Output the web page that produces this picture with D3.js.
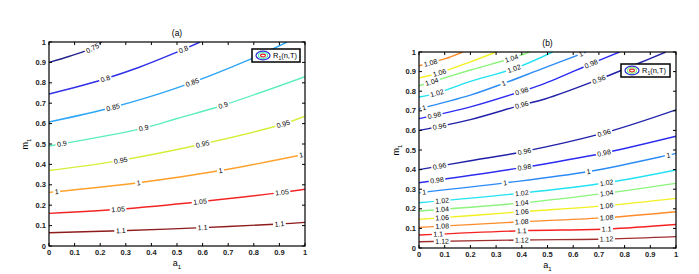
<!DOCTYPE html>
<html>
<head>
<meta charset="utf-8">
<script src="https://cdn.jsdelivr.net/npm/d3@7"></script>
<style>
  body { margin: 0; background: #fff; }
  svg text { font-family: "Liberation Sans", Arial, sans-serif; }
</style>
</head>
<body>
<div id="chart"></div>
<script>
"use strict"

// -------------------------------------
// Data
// -------------------------------------

var tickValues = [0, 0.1, 0.2, 0.3, 0.4, 0.5, 0.6, 0.7, 0.8, 0.9, 1]
var tickLabels = ['0', '0.1', '0.2', '0.3', '0.4', '0.5', '0.6', '0.7', '0.8', '0.9', '1']

// panel (a): contour levels, colours, points [a1, m1], label positions on a1
var levelsA = [0.75, 0.8, 0.85, 0.9, 0.95, 1, 1.05, 1.1]
var colorsA = ['#23238c', '#3030e8', '#2ea6f5', '#5cedbf', '#d6ee3a', '#ffa02a', '#f32424', '#8e1c1c']
var linesA = [
    [[0, 0.90], [0.08, 0.93], [0.17, 0.97], [0.205, 1.0]],
    [[0, 0.745], [0.1, 0.777], [0.22, 0.82], [0.35, 0.875], [0.49, 0.945], [0.59, 1.0]],
    [[0, 0.608], [0.25, 0.68], [0.5, 0.775], [0.785, 0.915], [0.93, 1.0]],
    [[0, 0.49], [0.37, 0.578], [0.5, 0.625], [0.68, 0.69], [1, 0.83]],
    [[0, 0.37], [0.28, 0.42], [0.6, 0.50], [0.915, 0.598], [1, 0.636]],
    [[0, 0.263], [0.35, 0.31], [0.67, 0.37], [1, 0.45]],
    [[0, 0.16], [0.27, 0.18], [0.59, 0.217], [0.91, 0.263], [1, 0.278]],
    [[0, 0.065], [0.28, 0.075], [0.6, 0.09], [0.9, 0.108], [1, 0.116]]
]
var labelsA = [
    [0.17],
    [0.22, 0.525],
    [0.25, 0.56],
    [0.05, 0.37, 0.68],
    [0.28, 0.6, 0.915],
    [0.03, 0.35, 0.67, 0.985],
    [0.27, 0.59, 0.91],
    [0.28, 0.6, 0.9]
]

// panel (b): upper group then lower group
var levelsB = [1.08, 1.06, 1.04, 1.02, 1, 0.98, 0.96, 0.96, 0.98, 1, 1.02, 1.04, 1.06, 1.08, 1.1, 1.12]
var colorsB = ['#ff8c2a', '#f2f022', '#8cf47c', '#22e2f2', '#2c8cf6', '#2c2cf0', '#2020a8',
               '#2020a8', '#2c2cf0', '#2c8cf6', '#22e2f2', '#8cf47c', '#f2f022', '#ff8c2a', '#f42222', '#a03030']
var linesB = [
    [[0, 0.93], [0.1, 0.965], [0.17, 1.0]],
    [[0, 0.868], [0.08, 0.894], [0.2, 0.95], [0.3, 1.0]],
    [[0, 0.828], [0.2, 0.908], [0.36, 0.968], [0.43, 1.0]],
    [[0, 0.77], [0.07, 0.79], [0.2, 0.85], [0.37, 0.915], [0.52, 1.0]],
    [[0, 0.71], [0.2, 0.78], [0.33, 0.84], [0.47, 0.91], [0.65, 1.0]],
    [[0, 0.66], [0.2, 0.72], [0.4, 0.80], [0.49, 0.84], [0.67, 0.94], [0.78, 1.0]],
    [[0, 0.60], [0.2, 0.655], [0.4, 0.73], [0.49, 0.76], [0.70, 0.86], [0.85, 0.94], [0.96, 1.0]],
    [[0, 0.40], [0.2, 0.445], [0.4, 0.49], [0.72, 0.587], [1, 0.705]],
    [[0, 0.333], [0.4, 0.41], [0.72, 0.485], [1, 0.57]],
    [[0, 0.282], [0.335, 0.332], [0.66, 0.39], [0.97, 0.474], [1, 0.483]],
    [[0, 0.231], [0.4, 0.28], [0.73, 0.333], [1, 0.398]],
    [[0, 0.189], [0.4, 0.23], [0.73, 0.28], [1, 0.33]],
    [[0, 0.146], [0.4, 0.185], [0.73, 0.216], [1, 0.253]],
    [[0, 0.105], [0.4, 0.134], [0.73, 0.155], [1, 0.185]],
    [[0, 0.066], [0.4, 0.088], [0.73, 0.097], [1, 0.12]],
    [[0, 0.032], [0.4, 0.041], [0.73, 0.046], [1, 0.058]]
]
var labelsB = [
    [0.045],
    [0.08],
    [0.05, 0.36],
    [0.07, 0.37],
    [0.02, 0.33, 0.63],
    [0.06, 0.40, 0.67],
    [0.08, 0.40, 0.70],
    [0.08, 0.41, 0.72],
    [0.07, 0.41, 0.72],
    [0.02, 0.335, 0.66, 0.97],
    [0.09, 0.40, 0.73],
    [0.09, 0.40, 0.73],
    [0.09, 0.40, 0.73],
    [0.09, 0.40, 0.73],
    [0.075, 0.40, 0.73],
    [0.09, 0.40, 0.73]
]

// -------------------------------------
// Layout
// -------------------------------------

var W = 699, H = 274

var svg = d3.select('#chart').append('svg')
    .attr('width', W)
    .attr('height', H)

var panels = [
    { title: '(a)', left: 49, right: 305, top: 42, bottom: 246,
      levels: levelsA, colors: colorsA, lines: linesA, labels: labelsA,
      legend: { x: 252, y: 49, w: 48, h: 13, mid: '#5cedbf' }, ylabelX: 28 },
    { title: '(b)', left: 419, right: 676, top: 52, bottom: 248,
      levels: levelsB, colors: colorsB, lines: linesB, labels: labelsB,
      legend: { x: 621, y: 64, w: 49, h: 13, mid: '#8cf47c' }, ylabelX: 399 }
]

panels.forEach(drawPanel)

// -------------------------------------
// Draw one contour panel
// -------------------------------------

function drawPanel(p) {
    var x = d3.scaleLinear().domain([0, 1]).range([p.left, p.right])
    var y = d3.scaleLinear().domain([0, 1]).range([p.bottom, p.top])

    var g = svg.append('g')

    var clipId = 'clip' + p.left
    g.append('clipPath').attr('id', clipId)
        .append('rect')
        .attr('x', p.left).attr('y', p.top)
        .attr('width', p.right - p.left).attr('height', p.bottom - p.top)

    var line = d3.line()
        .x(d => x(d[0]))
        .y(d => y(d[1]))
        .curve(d3.curveCatmullRom)

    var lineG = g.append('g').attr('clip-path', `url(#${clipId})`)
    var labelG = g.append('g').attr('clip-path', `url(#${clipId})`)

    p.lines.forEach(function (pts, i) {
        var path = lineG.append('path')
            .datum(pts)
            .attr('fill', 'none')
            .attr('stroke', p.colors[i])
            .attr('stroke-width', 1.4)
            .attr('d', line)

        var node = path.node()
        var total = node.getTotalLength()

        p.labels[i].forEach(function (a) {
            var px = x(a)
            // find length along path where x == px
            var lo = 0, hi = total
            for (var k = 0; k < 30; k++) {
                var mid = (lo + hi) / 2
                if (node.getPointAtLength(mid).x < px) lo = mid
                else hi = mid
            }
            var L = (lo + hi) / 2
            var pt = node.getPointAtLength(L)
            var p1 = node.getPointAtLength(Math.max(0, L - 3))
            var p2 = node.getPointAtLength(Math.min(total, L + 3))
            var ang = Math.atan2(p2.y - p1.y, p2.x - p1.x) * 180 / Math.PI

            var lab = labelG.append('g')
                .attr('transform', `translate(${pt.x},${pt.y}) rotate(${ang})`)
            var bg = lab.append('rect').attr('fill', '#fff')
            var txt = lab.append('text')
                .attr('text-anchor', 'middle')
                .attr('dy', '0.35em')
                .attr('font-size', 7)
                .attr('fill', '#000')
                .text(String(p.levels[i]))
            var tw = txt.node().getComputedTextLength()
            bg.attr('x', -tw / 2 - 1.5).attr('y', -3.5)
                .attr('width', tw + 3).attr('height', 7)
        })
    })

    // box + inward ticks on all sides
    g.append('rect')
        .attr('x', p.left).attr('y', p.top)
        .attr('width', p.right - p.left).attr('height', p.bottom - p.top)
        .attr('fill', 'none')
        .attr('stroke', '#000')
        .attr('stroke-width', 1.2)

    var tl = 3
    tickValues.forEach(function (t, i) {
        g.append('line').attr('x1', x(t)).attr('x2', x(t)).attr('y1', p.bottom).attr('y2', p.bottom - tl).attr('stroke', '#000')
        g.append('line').attr('x1', x(t)).attr('x2', x(t)).attr('y1', p.top).attr('y2', p.top + tl).attr('stroke', '#000')
        g.append('line').attr('y1', y(t)).attr('y2', y(t)).attr('x1', p.left).attr('x2', p.left + tl).attr('stroke', '#000')
        g.append('line').attr('y1', y(t)).attr('y2', y(t)).attr('x1', p.right).attr('x2', p.right - tl).attr('stroke', '#000')

        g.append('text')
            .attr('x', x(t)).attr('y', p.bottom + 9)
            .attr('text-anchor', 'middle')
            .attr('font-size', 7.5)
            .attr('font-weight', 'bold')
            .attr('fill', '#222')
            .text(tickLabels[i])
        g.append('text')
            .attr('x', p.left - 3).attr('y', y(t))
            .attr('dy', '0.35em')
            .attr('text-anchor', 'end')
            .attr('font-size', 7.5)
            .attr('font-weight', 'bold')
            .attr('fill', '#222')
            .text(tickLabels[i])
    })

    // title
    g.append('text')
        .attr('x', (p.left + p.right) / 2).attr('y', p.top - 6)
        .attr('text-anchor', 'middle')
        .attr('font-size', 8.5)
        .text(p.title)

    // axis labels
    var xl = g.append('text')
        .attr('x', (p.left + p.right) / 2).attr('y', p.bottom + 20)
        .attr('text-anchor', 'middle')
        .attr('font-size', 9)
    xl.append('tspan').text('a')
    xl.append('tspan').attr('font-size', 6).attr('dy', 3).text('1')

    var yc = (p.top + p.bottom) / 2
    var yl = g.append('text')
        .attr('transform', `translate(${p.ylabelX},${yc}) rotate(-90)`)
        .attr('text-anchor', 'middle')
        .attr('font-size', 9)
    yl.append('tspan').text('m')
    yl.append('tspan').attr('font-size', 6).attr('dy', 3).text('1')

    // legend
    var lg = p.legend
    g.append('rect')
        .attr('x', lg.x).attr('y', lg.y).attr('width', lg.w).attr('height', lg.h)
        .attr('fill', '#fff').attr('stroke', '#000').attr('stroke-width', 1.5)
    var cx = lg.x + 11, cy = lg.y + lg.h / 2
    g.append('ellipse').attr('cx', cx).attr('cy', cy).attr('rx', 7).attr('ry', 4.3)
        .attr('fill', 'none').attr('stroke', '#2c2cd0').attr('stroke-width', 1.2)
    g.append('ellipse').attr('cx', cx).attr('cy', cy).attr('rx', 4.6).attr('ry', 2.8)
        .attr('fill', 'none').attr('stroke', lg.mid).attr('stroke-width', 1.2)
    g.append('ellipse').attr('cx', cx).attr('cy', cy).attr('rx', 2.4).attr('ry', 1.4)
        .attr('fill', 'none').attr('stroke', '#e02020').attr('stroke-width', 1.1)
    var lt = g.append('text')
        .attr('x', lg.x + 21).attr('y', cy + 2)
        .attr('font-size', 7.5)
    lt.append('tspan').text('R')
    lt.append('tspan').attr('font-size', 5).attr('dy', 2).text('1')
    lt.append('tspan').attr('dy', -2).text('(n,T)')
}
</script>
</body>
</html>
